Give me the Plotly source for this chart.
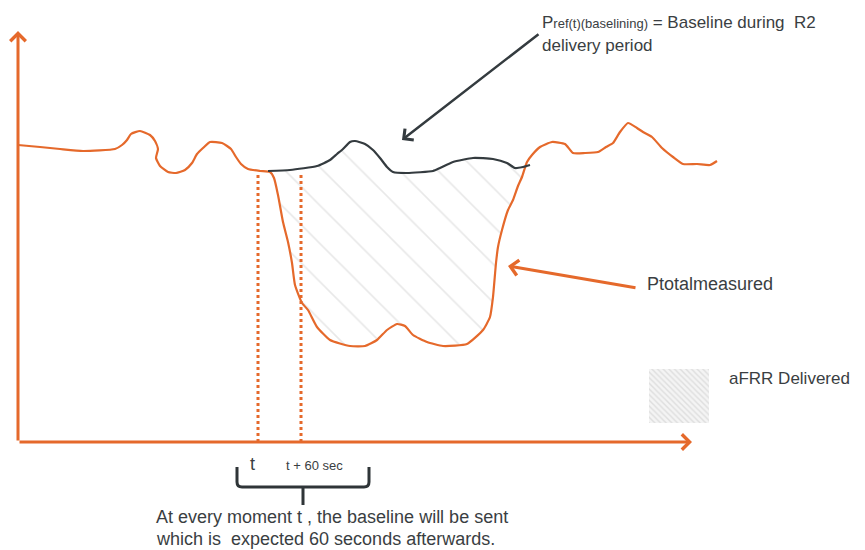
import plotly.graph_objects as go

# ---- data (time units on x, power units on y) ----
t_measured = [18, 40, 60, 83, 115, 122, 127, 131, 140, 150, 155, 158, 156, 160, 168, 176, 185, 192, 197, 203,
              210, 222, 231, 236, 241, 248, 260, 270, 274, 278, 283, 288, 292, 295, 302, 308, 317, 330, 350, 365,
              377, 387, 397, 405, 413, 427, 443, 467, 483, 490, 493, 496, 498, 502, 508, 513, 518, 522, 527, 532,
              540, 552, 565, 573, 585, 598, 606, 613, 620, 628, 637, 643, 652, 662, 673, 683, 697, 710, 717]
p_measured = [405, 403, 401, 399, 401, 405, 410, 416, 419, 415, 409, 401, 392, 384, 378, 377, 380, 387, 396, 402,
              408, 407, 401, 393, 386, 381, 379, 378, 372, 355, 328, 308, 287, 265, 247, 240, 223, 210, 204, 204,
              210, 220, 226, 224, 215, 208, 204, 206, 220, 233, 253, 287, 303, 320, 340, 350, 364, 373, 388, 395,
              403, 408, 406, 397, 397, 398, 403, 407, 418, 427, 422, 418, 413, 402, 393, 386, 386, 385, 389]

t_baseline = [268, 290, 317, 330, 337, 343, 350, 355, 365, 373, 380, 387, 393, 407, 433, 440, 453, 473, 493,
              507, 515, 523, 530]
p_baseline = [379, 380, 384, 390, 396, 401, 408, 409, 406, 400, 392, 383, 378, 377, 379, 382, 388, 392, 391,
              387, 382, 383, 385]

marker_times = [258, 301]          # t and t + 60 sec
marker_top = 378
axis_origin = (18, 108)
x_axis_end = 692
y_axis_end = 519

legend_box_t = [649, 709, 709, 649, 649]
legend_box_p = [181, 181, 127, 127, 181]

ORANGE = "#e5692b"
DARK = "#343b3f"
TEXT = "#3a3e42"
FONT = "Liberation Sans, Arial, sans-serif"

fig = go.Figure()

# hatched aFRR delivered area between baseline and measured power
fill_t = [t for t in t_baseline if t <= 523]
fill_p = [p for t, p in zip(t_baseline, p_baseline) if t <= 523]
seg = [(t, p) for t, p in zip(t_measured, p_measured) if 270 <= t <= 522]
fill_t += [t for t, _ in reversed(seg)]
fill_p += [p for _, p in reversed(seg)]
fig.add_trace(go.Scatter(x=fill_t, y=fill_p, mode="none", fill="toself", fillcolor="rgba(0,0,0,0)",
                         fillpattern=dict(shape="\\", size=27, solidity=0.06, fgcolor="#d2d2d2", bgcolor="white"),
                         hoverinfo="skip", showlegend=False))

# legend swatch
fig.add_trace(go.Scatter(x=legend_box_t, y=legend_box_p, mode="none", fill="toself", fillcolor="rgba(0,0,0,0)",
                         fillpattern=dict(shape="\\", size=4, solidity=0.35, fgcolor="#c8c8c8", bgcolor="#f4f4f4"),
                         hoverinfo="skip", showlegend=False))

# dotted markers at t and t+60
for mt in marker_times:
    fig.add_trace(go.Scatter(x=[mt, mt], y=[axis_origin[1], marker_top], mode="lines",
                             line=dict(color=ORANGE, width=3, dash="3px,3px"), hoverinfo="skip", showlegend=False))

# measured power
fig.add_trace(go.Scatter(x=t_measured, y=p_measured, mode="lines",
                         line=dict(color=ORANGE, width=2.2, shape="spline", smoothing=0.5),
                         hoverinfo="skip", showlegend=False))
# baseline
fig.add_trace(go.Scatter(x=t_baseline, y=p_baseline, mode="lines",
                         line=dict(color=DARK, width=2.2, shape="spline", smoothing=0.5),
                         hoverinfo="skip", showlegend=False))

ann = []
# axes arrows
ann.append(dict(x=axis_origin[0], y=y_axis_end, ax=axis_origin[0], ay=axis_origin[1], xref="x", yref="y",
                axref="x", ayref="y", showarrow=True, arrowhead=4, arrowsize=1, arrowwidth=3,
                arrowcolor=ORANGE, text=""))
ann.append(dict(x=x_axis_end, y=axis_origin[1], ax=axis_origin[0], ay=axis_origin[1], xref="x", yref="y",
                axref="x", ayref="y", showarrow=True, arrowhead=4, arrowsize=1, arrowwidth=3,
                arrowcolor=ORANGE, text=""))
# pointer arrows
ann.append(dict(x=402, y=410, ax=540, ay=517, xref="x", yref="y", axref="x", ayref="y", showarrow=True,
                arrowhead=4, arrowsize=1.1, arrowwidth=2.5, arrowcolor=DARK, text=""))
ann.append(dict(x=508, y=284, ax=637, ay=262, xref="x", yref="y", axref="x", ayref="y", showarrow=True,
                arrowhead=4, arrowsize=1, arrowwidth=3, arrowcolor=ORANGE, text=""))

def label(x, y, text, size=16):
    ann.append(dict(x=x, y=y, xref="x", yref="y", text=text, showarrow=False, xanchor="left", yanchor="middle",
                    font=dict(family=FONT, size=size, color=TEXT)))

label(540, 528, "P<span style='font-size:13px'>ref(t)(baselining)</span> = Baseline during  R2", 17)
label(540, 505, "delivery period", 17)
label(645, 266, "Ptotalmeasured", 18)
label(727, 172, "aFRR Delivered", 17)
label(248, 86, "t", 18)
label(284, 85, "t + 60 sec", 13)
label(154, 33, "At every moment t , the baseline will be sent", 18)
label(154, 11, "which is  expected 60 seconds afterwards.", 18)

# The page body adds an 8px offset; axis ranges are chosen so data units line up with the window.
fig.update_layout(
    width=857, height=542, margin=dict(l=0, r=0, t=0, b=0),
    paper_bgcolor="white", plot_bgcolor="white",
    xaxis=dict(range=[8, 865], visible=False, fixedrange=True),
    yaxis=dict(range=[0, 542], visible=False, fixedrange=True),
    annotations=ann,
    shapes=[dict(type="path", xref="x", yref="y",
                 path="M237,83 L237,68 Q237,63 242,63 L364,63 Q369,63 369,68 L369,83 M303,63 L303,45",
                 line=dict(color="#2f3538", width=3))],
    showlegend=False,
)

fig.write_html("out.html")
